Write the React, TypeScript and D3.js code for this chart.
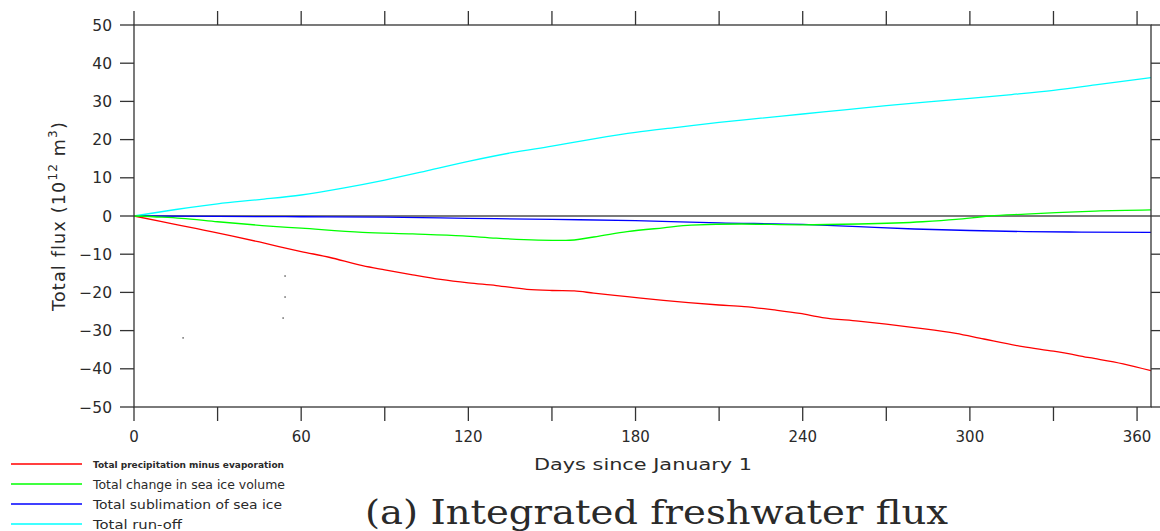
import React from "react";
import * as d3 from "d3";

// ---- data (day of year, 10^12 m^3) ----
const runoffDays = [0, 15, 30, 45, 60, 75, 90, 105, 120, 135, 150, 165, 180, 195, 210, 225, 240, 255, 270, 285, 300, 315, 330, 345, 365];
const runoffVals = [0, 1.7, 3.2, 4.3, 5.5, 7.3, 9.4, 11.8, 14.3, 16.5, 18.3, 20.2, 21.9, 23.2, 24.5, 25.6, 26.7, 27.8, 28.9, 29.9, 30.8, 31.8, 32.9, 34.3, 36.2];

const pmeDays = [0, 10, 17, 25, 35, 45, 52, 60, 70, 82, 90, 100, 110, 120, 130, 141, 150, 158, 165, 177, 190, 199, 210, 219, 230, 239, 247, 260, 270, 280, 295, 305, 319, 330, 343, 355, 365];
const pmeVals = [0, -1.5, -2.5, -3.7, -5.2, -6.8, -8.0, -9.3, -10.8, -13.0, -14.1, -15.4, -16.6, -17.5, -18.2, -19.2, -19.5, -19.6, -20.2, -21.1, -22.1, -22.7, -23.3, -23.7, -24.6, -25.5, -26.6, -27.5, -28.3, -29.2, -30.7, -32.2, -34.2, -35.4, -37.1, -38.7, -40.5];

const iceDays = [0, 10, 17, 30, 46, 60, 82, 100, 118, 130, 145, 155, 165, 177, 190, 200, 218, 239, 260, 283, 295, 307, 320, 331, 345, 365];
const iceVals = [0, -0.3, -0.6, -1.5, -2.5, -3.2, -4.3, -4.7, -5.2, -5.8, -6.3, -6.4, -5.5, -4.1, -3.1, -2.4, -2.1, -2.3, -2.1, -1.5, -0.9, 0, 0.5, 0.9, 1.3, 1.6];

const sublDays = [0, 30, 60, 90, 120, 150, 180, 210, 240, 260, 280, 300, 320, 340, 365];
const sublVals = [0, -0.1, -0.2, -0.3, -0.6, -0.9, -1.2, -1.8, -2.2, -2.8, -3.4, -3.8, -4.1, -4.2, -4.3];

const seriesNames = [
  "Total precipitation minus evaporation",
  "Total change in sea ice volume",
  "Total sublimation of sea ice",
  "Total run-off",
];
const seriesColors = ["#ff0000", "#00ff00", "#0000ff", "#00ffff"];

const xTicks = [0, 30, 60, 90, 120, 150, 180, 210, 240, 270, 300, 330, 360];
const xLabelTicks = [0, 60, 120, 180, 240, 300, 360];
const yTicks = [-50, -40, -30, -20, -10, 0, 10, 20, 30, 40, 50];

// stray specks in the plot area (day, value)
const speckDays = [54.2, 54.2, 53.5, 17.6];
const speckVals = [-15.7, -21.2, -26.7, -31.9];

const W = 1160, H = 531;
const M = { left: 134, right: 1151, top: 25, bottom: 407 };

export default function App() {
  const x = d3.scaleLinear().domain([0, 365]).range([M.left, M.right]);
  const y = d3.scaleLinear().domain([-50, 50]).range([M.bottom, M.top]);
  const smooth = d3
    .line<[number, number]>()
    .curve(d3.curveMonotoneX)
    .x((d) => x(d[0]))
    .y((d) => y(d[1]));

  const series: [number, number][][] = [
    pmeDays.map((d, i) => [d, pmeVals[i]]),
    iceDays.map((d, i) => [d, iceVals[i]]),
    sublDays.map((d, i) => [d, sublVals[i]]),
    runoffDays.map((d, i) => [d, runoffVals[i]]),
  ];
  const order = [2, 3, 0, 1];

  const axisColor = "#333";
  const tickLen = 14;
  const sans = "'DejaVu Sans', 'Liberation Sans', sans-serif";
  const fmt = (v: number) => (v < 0 ? "\u2212" + Math.abs(v) : String(v));

  const legendY = [464, 484, 504, 524];
  const legendLen = [191, 192, 189, 89];

  return (
    <svg
      width={W}
      height={H}
      style={{ position: "absolute", left: 0, top: 0, background: "#fff" }}
    >
      <rect x={0} y={0} width={W} height={H} fill="#fff" />
      <line x1={M.left} x2={M.right} y1={y(0)} y2={y(0)} stroke="#7a7a7a" strokeWidth={1.8} />
      <g fill="none" strokeWidth={1.3}>
        {order.map((k) => (
          <path key={k} d={smooth(series[k]) || ""} stroke={seriesColors[k]} />
        ))}
      </g>
      {speckDays.map((d, i) => (
        <rect key={i} x={x(d) - 0.6} y={y(speckVals[i]) - 0.6} width={1.3} height={1.3} fill="#333" />
      ))}
      <rect
        x={M.left}
        y={M.top}
        width={M.right - M.left}
        height={M.bottom - M.top}
        fill="none"
        stroke={axisColor}
        strokeWidth={1.3}
      />
      {xTicks.map((t) => (
        <g key={"xt" + t} stroke={axisColor} strokeWidth={1.3}>
          <line x1={x(t)} x2={x(t)} y1={M.bottom} y2={M.bottom + tickLen} />
          <line x1={x(t)} x2={x(t)} y1={M.top} y2={M.top - tickLen} />
        </g>
      ))}
      {yTicks.map((t) => (
        <g key={"yt" + t} stroke={axisColor} strokeWidth={1.3}>
          <line x1={M.left - tickLen} x2={M.left} y1={y(t)} y2={y(t)} />
          <line x1={M.right} x2={M.right + tickLen} y1={y(t)} y2={y(t)} />
        </g>
      ))}
      {xLabelTicks.map((t) => (
        <text
          key={"xl" + t}
          x={x(t)}
          y={442}
          textAnchor="middle"
          fontFamily={sans}
          fontSize={15}
          fill="#2a2a2a"
        >
          {t}
        </text>
      ))}
      {yTicks.map((t) => (
        <text
          key={"yl" + t}
          x={112}
          y={y(t) + 5.5}
          textAnchor="end"
          fontFamily={sans}
          fontSize={15.5}
          fill="#2a2a2a"
        >
          {fmt(t)}
        </text>
      ))}
      <text
        x={643}
        y={470}
        textAnchor="middle"
        fontFamily={sans}
        fontSize={16.5}
        fill="#2a2a2a"
        textLength={218}
        lengthAdjust="spacingAndGlyphs"
      >
        Days since January 1
      </text>
      <text
        transform={`translate(65,${y(0)}) rotate(-90)`}
        textAnchor="middle"
        fontFamily={sans}
        fontSize={17.5}
        fill="#2a2a2a"
        letterSpacing={1.2}
      >
        Total flux (10
        <tspan fontSize={12} dy={-8}>12</tspan>
        <tspan dy={8}> m</tspan>
        <tspan fontSize={12} dy={-8}>3</tspan>
        <tspan dy={8}>)</tspan>
      </text>
      {seriesNames.map((name, i) => (
        <g key={"lg" + i}>
          <line x1={11} x2={82} y1={legendY[i]} y2={legendY[i]} stroke={seriesColors[i]} strokeWidth={1.3} />
          <text
            x={93}
            y={legendY[i] + (i === 0 ? 3.5 : 5)}
            fontFamily={sans}
            fontSize={i === 0 ? 9.5 : 12}
            fontWeight={i === 0 ? "bold" : "normal"}
            fill="#2a2a2a"
            textLength={legendLen[i]}
            lengthAdjust="spacingAndGlyphs"
          >
            {name}
          </text>
        </g>
      ))}
      <text
        x={365}
        y={524}
        fontFamily="'DejaVu Serif', 'Liberation Serif', serif"
        fontSize={33}
        fill="#2a2a2a"
        textLength={583}
        lengthAdjust="spacingAndGlyphs"
      >
        (a) Integrated freshwater flux
      </text>
    </svg>
  );
}
